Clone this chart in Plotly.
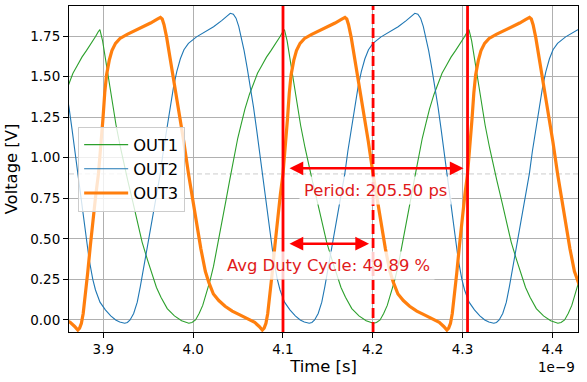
import plotly.graph_objects as go

# Ring oscillator outputs (time in ns, voltage in V)
OUT1 = [
    (3.8572, 1.39), (3.8612, 1.45), (3.8662, 1.52), (3.8712, 1.57), (3.8762, 1.62), (3.8812, 1.66),
    (3.8862, 1.70), (3.8912, 1.745), (3.8942, 1.775), (3.8962, 1.79), (3.8992, 1.72), (3.9012, 1.65),
    (3.9052, 1.50), (3.9092, 1.36), (3.9142, 1.20), (3.9192, 1.06), (3.9242, 0.93), (3.9272, 0.86),
    (3.9332, 0.72), (3.9382, 0.60), (3.9432, 0.48), (3.9492, 0.37), (3.9542, 0.28), (3.9592, 0.20),
    (3.9642, 0.14), (3.9712, 0.07), (3.9792, 0.025), (3.9872, -0.005), (3.9952, -0.02), (3.9987, -0.015),
    (4.0027, 0.0), (4.0067, 0.04), (4.0107, 0.09), (4.0147, 0.16), (4.0187, 0.24), (4.0227, 0.33),
    (4.0277, 0.47), (4.0317, 0.60), (4.0367, 0.74), (4.0407, 0.86), (4.0457, 1.01), (4.0497, 1.12),
    (4.0537, 1.21), (4.0577, 1.30), (4.0627, 1.39), (4.0667, 1.45), (4.0717, 1.52), (4.0767, 1.57),
    (4.0817, 1.62), (4.0867, 1.66), (4.0917, 1.70), (4.0967, 1.745), (4.0997, 1.775), (4.1017, 1.79),
    (4.1047, 1.72), (4.1067, 1.65), (4.1107, 1.50), (4.1147, 1.36), (4.1197, 1.20), (4.1247, 1.06),
    (4.1297, 0.93), (4.1327, 0.86), (4.1387, 0.72), (4.1437, 0.60), (4.1487, 0.48), (4.1547, 0.37),
    (4.1597, 0.28), (4.1647, 0.20), (4.1697, 0.14), (4.1767, 0.07), (4.1847, 0.025), (4.1927, -0.005),
    (4.2007, -0.02), (4.2042, -0.015), (4.2082, 0.0), (4.2122, 0.04), (4.2162, 0.09), (4.2202, 0.16),
    (4.2242, 0.24), (4.2282, 0.33), (4.2332, 0.47), (4.2372, 0.60), (4.2422, 0.74), (4.2462, 0.86),
    (4.2512, 1.01), (4.2552, 1.12), (4.2592, 1.21), (4.2632, 1.30), (4.2682, 1.39), (4.2722, 1.45),
    (4.2772, 1.52), (4.2822, 1.57), (4.2872, 1.62), (4.2922, 1.66), (4.2972, 1.70), (4.3022, 1.745),
    (4.3052, 1.775), (4.3072, 1.79), (4.3102, 1.72), (4.3122, 1.65), (4.3162, 1.50), (4.3202, 1.36),
    (4.3252, 1.20), (4.3302, 1.06), (4.3352, 0.93), (4.3382, 0.86), (4.3442, 0.72), (4.3492, 0.60),
    (4.3542, 0.48), (4.3602, 0.37), (4.3652, 0.28), (4.3702, 0.20), (4.3752, 0.14), (4.3822, 0.07),
    (4.3902, 0.025), (4.3982, -0.005), (4.4062, -0.02), (4.4097, -0.015), (4.4137, 0.0), (4.4177, 0.04),
    (4.4217, 0.09), (4.4257, 0.16), (4.4297, 0.24), (4.4337, 0.33),
]

OUT2 = [
    (3.8513, 1.66), (3.8548, 1.55), (3.8583, 1.44), (3.8618, 1.31), (3.8653, 1.17), (3.8693, 1.0),
    (3.8733, 0.82), (3.8768, 0.66), (3.8803, 0.51), (3.8843, 0.37), (3.8883, 0.25), (3.8913, 0.185),
    (3.8963, 0.11), (3.9023, 0.062), (3.9083, 0.025), (3.9138, 0.0), (3.9183, -0.012), (3.9238, -0.02),
    (3.9268, -0.015), (3.9298, 0.0), (3.9338, 0.04), (3.9378, 0.11), (3.9412, 0.205), (3.9448, 0.32),
    (3.9488, 0.43), (3.9523, 0.534), (3.9578, 0.72), (3.9635, 0.904), (3.9668, 1.04), (3.9708, 1.19),
    (3.9748, 1.33), (3.9783, 1.44), (3.9818, 1.53), (3.9858, 1.61), (3.9898, 1.665), (3.9948, 1.705),
    (4.0038, 1.745), (4.0138, 1.775), (4.0228, 1.807), (4.0318, 1.845), (4.0378, 1.875), (4.0414, 1.89),
    (4.0448, 1.885), (4.0478, 1.86), (4.0508, 1.81), (4.0538, 1.74), (4.0568, 1.66), (4.0603, 1.55),
    (4.0638, 1.44), (4.0673, 1.31), (4.0708, 1.17), (4.0748, 1.0), (4.0788, 0.82), (4.0823, 0.66),
    (4.0858, 0.51), (4.0898, 0.37), (4.0938, 0.25), (4.0968, 0.185), (4.1018, 0.11), (4.1078, 0.062),
    (4.1138, 0.025), (4.1193, 0.0), (4.1238, -0.012), (4.1293, -0.02), (4.1323, -0.015), (4.1353, 0.0),
    (4.1393, 0.04), (4.1433, 0.11), (4.1467, 0.205), (4.1503, 0.32), (4.1543, 0.43), (4.1578, 0.534),
    (4.1633, 0.72), (4.1690, 0.904), (4.1723, 1.04), (4.1763, 1.19), (4.1803, 1.33), (4.1838, 1.44),
    (4.1873, 1.53), (4.1913, 1.61), (4.1953, 1.665), (4.2003, 1.705), (4.2093, 1.745), (4.2193, 1.775),
    (4.2283, 1.807), (4.2373, 1.845), (4.2433, 1.875), (4.2469, 1.89), (4.2503, 1.885), (4.2533, 1.86),
    (4.2563, 1.81), (4.2593, 1.74), (4.2623, 1.66), (4.2658, 1.55), (4.2693, 1.44), (4.2728, 1.31),
    (4.2763, 1.17), (4.2803, 1.0), (4.2843, 0.82), (4.2878, 0.66), (4.2913, 0.51), (4.2953, 0.37),
    (4.2993, 0.25), (4.3023, 0.185), (4.3073, 0.11), (4.3133, 0.062), (4.3193, 0.025), (4.3248, 0.0),
    (4.3293, -0.012), (4.3348, -0.02), (4.3378, -0.015), (4.3408, 0.0), (4.3448, 0.04), (4.3488, 0.11),
    (4.3522, 0.205), (4.3558, 0.32), (4.3598, 0.43), (4.3633, 0.534), (4.3688, 0.72), (4.3745, 0.904),
    (4.3778, 1.04), (4.3818, 1.19), (4.3858, 1.33), (4.3893, 1.44), (4.3928, 1.53), (4.3968, 1.61),
    (4.4008, 1.665), (4.4058, 1.705), (4.4148, 1.745), (4.4248, 1.775), (4.4338, 1.807),
]

OUT3 = [
    (3.8551, 0.01), (3.8631, -0.015), (3.8681, -0.04), (3.8716, -0.062), (3.8736, -0.05), (3.8756, -0.02),
    (3.8776, 0.04), (3.8796, 0.13), (3.8826, 0.29), (3.8856, 0.46), (3.8886, 0.63), (3.8916, 0.77),
    (3.8946, 0.90), (3.8976, 1.08), (3.8996, 1.24), (3.9016, 1.40), (3.9036, 1.51), (3.9066, 1.60),
    (3.9096, 1.66), (3.9136, 1.705), (3.9186, 1.735), (3.9266, 1.76), (3.9346, 1.78), (3.9446, 1.805),
    (3.9526, 1.83), (3.9596, 1.852), (3.9636, 1.865), (3.9656, 1.855), (3.9676, 1.82), (3.9706, 1.74),
    (3.9736, 1.64), (3.9766, 1.55), (3.9796, 1.45), (3.9846, 1.28), (3.9896, 1.10), (3.9949, 0.90),
    (4.0016, 0.67), (4.0086, 0.44), (4.0136, 0.30), (4.0176, 0.23), (4.0226, 0.16), (4.0286, 0.12),
    (4.0356, 0.085), (4.0436, 0.055), (4.0526, 0.03), (4.0606, 0.01), (4.0686, -0.015), (4.0736, -0.04),
    (4.0771, -0.062), (4.0791, -0.05), (4.0811, -0.02), (4.0831, 0.04), (4.0851, 0.13), (4.0881, 0.29),
    (4.0911, 0.46), (4.0941, 0.63), (4.0971, 0.77), (4.1001, 0.90), (4.1031, 1.08), (4.1051, 1.24),
    (4.1071, 1.40), (4.1091, 1.51), (4.1121, 1.60), (4.1151, 1.66), (4.1191, 1.705), (4.1241, 1.735),
    (4.1321, 1.76), (4.1401, 1.78), (4.1501, 1.805), (4.1581, 1.83), (4.1651, 1.852), (4.1691, 1.865),
    (4.1711, 1.855), (4.1731, 1.82), (4.1761, 1.74), (4.1791, 1.64), (4.1821, 1.55), (4.1851, 1.45),
    (4.1901, 1.28), (4.1951, 1.10), (4.2004, 0.90), (4.2071, 0.67), (4.2141, 0.44), (4.2191, 0.30),
    (4.2231, 0.23), (4.2281, 0.16), (4.2341, 0.12), (4.2411, 0.085), (4.2491, 0.055), (4.2581, 0.03),
    (4.2661, 0.01), (4.2741, -0.015), (4.2791, -0.04), (4.2826, -0.062), (4.2846, -0.05), (4.2866, -0.02),
    (4.2886, 0.04), (4.2906, 0.13), (4.2936, 0.29), (4.2966, 0.46), (4.2996, 0.63), (4.3026, 0.77),
    (4.3056, 0.90), (4.3086, 1.08), (4.3106, 1.24), (4.3126, 1.40), (4.3146, 1.51), (4.3176, 1.60),
    (4.3206, 1.66), (4.3246, 1.705), (4.3296, 1.735), (4.3376, 1.76), (4.3456, 1.78), (4.3556, 1.805),
    (4.3636, 1.83), (4.3706, 1.852), (4.3746, 1.865), (4.3766, 1.855), (4.3786, 1.82), (4.3816, 1.74),
    (4.3846, 1.64), (4.3876, 1.55), (4.3906, 1.45), (4.3956, 1.28), (4.4006, 1.10), (4.4059, 0.90),
    (4.4126, 0.67), (4.4196, 0.44), (4.4246, 0.30), (4.4286, 0.23), (4.4336, 0.16),
]

# measurement markers (ns) and results
T_RISE = [4.1001, 4.3056]
T_FALL = 4.2004
V_TH = 0.9
PERIOD_PS = 205.50
DUTY_PCT = 49.89
Y_PERIOD_ARROW = 0.935
Y_DUTY_ARROW = 0.47

X_RANGE = [3.8618, 4.4286]
Y_RANGE = [-0.074, 1.935]
X_TICKS = [3.9, 4.0, 4.1, 4.2, 4.3, 4.4]
Y_TICKS = [0.0, 0.25, 0.5, 0.75, 1.0, 1.25, 1.5, 1.75]

FONT = "DejaVu Sans"
RED = "#ff0000"
TXT_RED = "#e01a1a"

fig = go.Figure()
series = [
    ("OUT1", OUT1, "#2ca02c", 1.1),
    ("OUT2", OUT2, "#1f77b4", 1.1),
    ("OUT3", OUT3, "#ff7f0e", 3.2),
]
for name, pts, color, w in series:
    t, v = zip(*pts)
    fig.add_trace(go.Scatter(x=list(t), y=list(v), mode="lines", name=name,
                             line=dict(color=color, width=w)))

# threshold line
fig.add_shape(type="line", xref="paper", yref="y", x0=0, x1=1, y0=V_TH, y1=V_TH,
              line=dict(color="#cccccc", width=1, dash="5px,3px"), layer="between")
# rising edges (solid) and falling edge (dashed)
for tr in T_RISE:
    fig.add_shape(type="line", xref="x", yref="paper", x0=tr, x1=tr, y0=0, y1=1,
                  line=dict(color=RED, width=2.8))
fig.add_shape(type="line", xref="x", yref="paper", x0=T_FALL, x1=T_FALL, y0=0, y1=1,
              line=dict(color=RED, width=2.8, dash="10px,4px"))

# double-headed arrows
for x0, x1, y in [(T_RISE[0], T_RISE[1], Y_PERIOD_ARROW), (T_RISE[0], T_FALL, Y_DUTY_ARROW)]:
    fig.add_annotation(x=x1, y=y, ax=x0, ay=y, xref="x", yref="y", axref="x", ayref="y",
                       text="", showarrow=True, arrowside="end+start", arrowhead=2,
                       arrowsize=1.1, arrowwidth=2.5, arrowcolor=RED,
                       standoff=4, startstandoff=5)

fig.add_annotation(x=(T_RISE[0] + T_RISE[1]) / 2, y=0.795, xref="x", yref="y",
                   text=f"Period: {PERIOD_PS:.2f} ps", showarrow=False,
                   font=dict(family=FONT, size=16.4, color=TXT_RED),
                   bgcolor="rgba(255,255,255,0.8)", borderpad=4)
fig.add_annotation(x=(T_RISE[0] + T_FALL) / 2, y=0.333, xref="x", yref="y",
                   text=f"Avg Duty Cycle: {DUTY_PCT:.2f} %", showarrow=False,
                   font=dict(family=FONT, size=16.4, color=TXT_RED),
                   bgcolor="rgba(255,255,255,0.8)", borderpad=4)

# axis offset label
fig.add_annotation(x=1, y=0, xref="paper", yref="paper", xanchor="right", yanchor="middle",
                   yshift=-35, xshift=-1, text="1e\u22129", showarrow=False,
                   font=dict(family=FONT, size=13.5, color="black"))

axis_common = dict(showline=True, linecolor="black", linewidth=1, mirror=True,
                   showgrid=True, gridcolor="#b0b0b0", gridwidth=0.8,
                   ticks="outside", ticklen=5, tickcolor="black", tickwidth=1,
                   tickfont=dict(family=FONT, size=13.5, color="black"), zeroline=False)

fig.update_xaxes(range=X_RANGE, tickvals=X_TICKS, tickformat=".1f",
                 title=dict(text="Time [s]", font=dict(family=FONT, size=16.4, color="black"), standoff=4),
                 **axis_common)
fig.update_yaxes(range=Y_RANGE, tickvals=Y_TICKS, tickformat=".2f",
                 title=dict(text="Voltage [V]", font=dict(family=FONT, size=16.4, color="black"), standoff=8),
                 **axis_common)

fig.update_layout(
    width=587, height=382,
    margin=dict(l=69, r=9, t=6, b=50),
    paper_bgcolor="white", plot_bgcolor="white",
    font=dict(family=FONT, color="black"),
    legend=dict(x=0.018, y=0.5, xanchor="left", yanchor="middle",
                bgcolor="rgba(255,255,255,0.8)", bordercolor="#cccccc", borderwidth=1,
                font=dict(family=FONT, size=16.3, color="black"), tracegroupgap=0,
                itemwidth=44),
    showlegend=True,
)

# the page body has a default 8px margin; remove it so the figure sits at the window corner
fig.write_html("out.html", config={"displayModeBar": False},
               post_script="document.body.style.margin='0px';")
